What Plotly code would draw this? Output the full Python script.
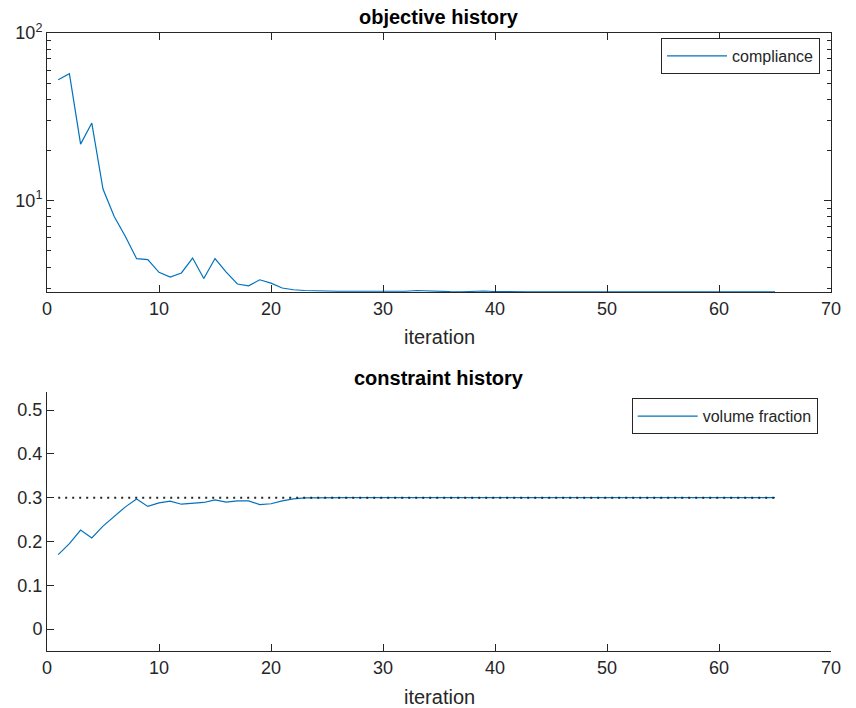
import math
import plotly.graph_objects as go

# ---------------- data ----------------
iterations = list(range(1, 66))

compliance = [
    52.6, 57.1, 21.7, 29.0, 11.7, 8.02, 6.09, 4.49, 4.43, 3.72,
    3.49, 3.69, 4.53, 3.42, 4.50, 3.73, 3.17, 3.09, 3.36, 3.21,
    3.00, 2.93, 2.90, 2.88, 2.88, 2.87, 2.87, 2.86, 2.86, 2.855,
    2.855, 2.87, 2.90, 2.88, 2.86, 2.855, 2.85, 2.86, 2.88, 2.86,
    2.85, 2.85, 2.85, 2.85, 2.85, 2.85, 2.85, 2.85, 2.85, 2.85,
    2.85, 2.85, 2.85, 2.85, 2.85, 2.85, 2.85, 2.85, 2.85, 2.85,
    2.85, 2.85, 2.85, 2.85, 2.85,
]

volume_fraction = [
    0.170, 0.195, 0.226, 0.208, 0.235, 0.256, 0.279, 0.297, 0.280, 0.288,
    0.292, 0.285, 0.287, 0.289, 0.295, 0.290, 0.2925, 0.2925, 0.284, 0.286,
    0.2925, 0.297, 0.2995, 0.300, 0.300, 0.300, 0.300, 0.300, 0.300, 0.300,
    0.300, 0.300, 0.2995, 0.300, 0.300, 0.300, 0.300, 0.300, 0.300, 0.300,
    0.300, 0.300, 0.300, 0.300, 0.300, 0.300, 0.300, 0.300, 0.300, 0.300,
    0.300, 0.300, 0.300, 0.300, 0.300, 0.300, 0.300, 0.300, 0.300, 0.300,
    0.300, 0.300, 0.300, 0.300, 0.300,
]

volume_limit = 0.3

x_ticks = [0, 10, 20, 30, 40, 50, 60, 70]
y1_major = [10, 100]
y1_major_text = ["10<sup>1</sup>", "10<sup>2</sup>"]
y1_minor = [3, 4, 5, 6, 7, 8, 9, 20, 30, 40, 50, 60, 70, 80, 90]
y2_ticks = [0, 0.1, 0.2, 0.3, 0.4, 0.5]
y2_text = ["0", "0.1", "0.2", "0.3", "0.4", "0.5"]

# ---------------- figure ----------------
FONT = "Liberation Sans, Arial, Helvetica, sans-serif"
AX = "#262626"
BLUE = "#0072BD"

fig = go.Figure()

fig.add_trace(go.Scatter(
    x=iterations, y=compliance, mode="lines", name="compliance",
    line=dict(color=BLUE, width=1.2), xaxis="x", yaxis="y", legend="legend",
))
fig.add_trace(go.Scatter(
    x=iterations, y=volume_fraction, mode="lines", name="volume fraction",
    line=dict(color=BLUE, width=1.2), xaxis="x2", yaxis="y2", legend="legend2",
))
fig.add_trace(go.Scatter(
    x=[iterations[0], iterations[-1]], y=[volume_limit, volume_limit],
    mode="lines", showlegend=False,
    line=dict(color=AX, width=2, dash="2px,5px"), xaxis="x2", yaxis="y2",
))

common_axis = dict(
    showline=True, linecolor=AX, linewidth=1, ticks="inside", ticklen=7,
    tickcolor=AX, tickwidth=1, showgrid=False, zeroline=False,
    tickfont=dict(family=FONT, size=18, color=AX),
)

fig.update_layout(
    width=856, height=708,
    margin=dict(l=47, r=25, t=33, b=57),
    paper_bgcolor="white", plot_bgcolor="white",
    font=dict(family=FONT, color=AX),
    xaxis=dict(domain=[0, 1], anchor="y", range=[0, 70], tickmode="array",
               tickvals=x_ticks, mirror="ticks", **common_axis),
    yaxis=dict(domain=[0.5809, 1], anchor="x", type="log",
               range=[math.log10(2.84), 2], tickmode="array",
               tickvals=y1_major, ticktext=y1_major_text, mirror="ticks",
               minor=dict(tickmode="array", tickvals=y1_minor, ticks="inside",
                          ticklen=4, tickcolor=AX, tickwidth=1, showgrid=False),
               **common_axis),
    xaxis2=dict(domain=[0, 1], anchor="y2", range=[0, 70], tickmode="array",
                tickvals=x_ticks, **common_axis),
    yaxis2=dict(domain=[0, 0.4183], anchor="x2", range=[-0.05, 0.54],
                tickmode="array", tickvals=y2_ticks, ticktext=y2_text,
                **common_axis),
    legend=dict(x=0.986, xanchor="right", y=0.992, yanchor="top",
                bgcolor="white", bordercolor=AX, borderwidth=1,
                font=dict(family=FONT, size=16, color=AX), itemwidth=60),
    legend2=dict(x=0.983, xanchor="right", y=0.409, yanchor="top",
                 bgcolor="white", bordercolor=AX, borderwidth=1,
                 font=dict(family=FONT, size=16, color=AX), itemwidth=60),
    annotations=[
        dict(text="<b>objective history</b>", x=0.5, y=1.0259, xref="paper",
             yref="paper", showarrow=False, yanchor="middle",
             font=dict(family=FONT, size=20, color="black")),
        dict(text="iteration", x=0.5, y=0.508, xref="paper", yref="paper",
             showarrow=False, yanchor="middle",
             font=dict(family=FONT, size=20, color=AX)),
        dict(text="<b>constraint history</b>", x=0.5, y=0.4417, xref="paper",
             yref="paper", showarrow=False, yanchor="middle",
             font=dict(family=FONT, size=20, color="black")),
        dict(text="iteration", x=0.5, y=-0.0744, xref="paper", yref="paper",
             showarrow=False, yanchor="middle",
             font=dict(family=FONT, size=20, color=AX)),
    ],
)

fig.write_html("out.html", config={"displayModeBar": False},
               post_script="document.body.style.margin='0';")
